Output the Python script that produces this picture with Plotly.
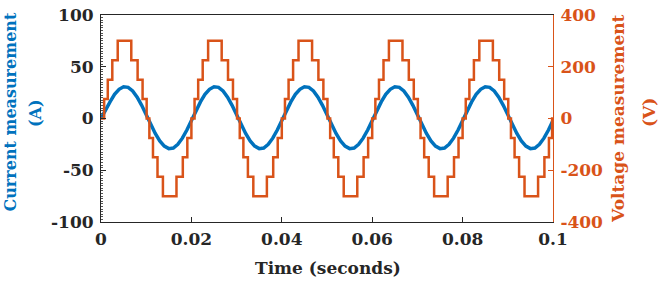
import plotly.graph_objects as go

# ---- data ----
time_current = [round(0.001 * k, 3) for k in range(101)]
current = [
    0.0, 7.2, 16.0, 23.3, 28.2, 30.7, 30.1, 26.6, 20.6, 12.7,
    3.6, -5.7, -14.5, -21.7, -26.7, -29.1, -28.5, -25.0, -19.0, -11.1,
    -2.0, 7.2, 16.0, 23.3, 28.2, 30.7, 30.1, 26.6, 20.6, 12.7,
    3.6, -5.7, -14.5, -21.7, -26.7, -29.1, -28.5, -25.0, -19.0, -11.1,
    -2.0, 7.2, 16.0, 23.3, 28.2, 30.7, 30.1, 26.6, 20.6, 12.7,
    3.6, -5.7, -14.5, -21.7, -26.7, -29.1, -28.5, -25.0, -19.0, -11.1,
    -2.0, 7.2, 16.0, 23.3, 28.2, 30.7, 30.1, 26.6, 20.6, 12.7,
    3.6, -5.7, -14.5, -21.7, -26.7, -29.1, -28.5, -25.0, -19.0, -11.1,
    -2.0, 7.2, 16.0, 23.3, 28.2, 30.7, 30.1, 26.6, 20.6, 12.7,
    3.6, -5.7, -14.5, -21.7, -26.7, -29.1, -28.5, -25.0, -19.0, -11.1,
    -2.0,
]

# voltage staircase: times at which a new level starts, and the level
time_voltage = [
    0.0,
    0.0007, 0.0015, 0.0025, 0.0037, 0.0067, 0.0081, 0.0092, 0.0101,
    0.0107, 0.0115, 0.0125, 0.0137, 0.0167, 0.0181, 0.0191, 0.0200,
    0.0207, 0.0215, 0.0225, 0.0237, 0.0267, 0.0281, 0.0292, 0.0301,
    0.0307, 0.0315, 0.0325, 0.0337, 0.0367, 0.0381, 0.0391, 0.0400,
    0.0407, 0.0415, 0.0425, 0.0437, 0.0467, 0.0481, 0.0492, 0.0501,
    0.0507, 0.0515, 0.0525, 0.0537, 0.0567, 0.0581, 0.0591, 0.0600,
    0.0607, 0.0615, 0.0625, 0.0637, 0.0667, 0.0681, 0.0692, 0.0701,
    0.0707, 0.0715, 0.0725, 0.0737, 0.0767, 0.0781, 0.0791, 0.0800,
    0.0807, 0.0815, 0.0825, 0.0837, 0.0867, 0.0881, 0.0892, 0.0901,
    0.0907, 0.0915, 0.0925, 0.0937, 0.0967, 0.0981, 0.0991, 0.0998,
    0.1000,
]
voltage = [
    0,
    75, 150, 225, 300, 225, 150, 75, 0,
    -75, -150, -225, -300, -225, -150, -75, 0,
    75, 150, 225, 300, 225, 150, 75, 0,
    -75, -150, -225, -300, -225, -150, -75, 0,
    75, 150, 225, 300, 225, 150, 75, 0,
    -75, -150, -225, -300, -225, -150, -75, 0,
    75, 150, 225, 300, 225, 150, 75, 0,
    -75, -150, -225, -300, -225, -150, -75, 0,
    75, 150, 225, 300, 225, 150, 75, 0,
    -75, -150, -225, -300, -225, -150, -75, 0,
    0,
]

x_ticks = [0, 0.02, 0.04, 0.06, 0.08, 0.1]
x_tick_labels = ["0", "0.02", "0.04", "0.06", "0.08", "0.1"]
y1_ticks = [-100, -50, 0, 50, 100]
y1_tick_labels = ["-100", "-50", "0", "50", "100"]
y2_ticks = [-400, -200, 0, 200, 400]
y2_tick_labels = ["-400", "-200", "0", "200", "400"]

BLUE = "#0072BD"
ORANGE = "#D95319"
DARK = "#262626"
FONT = "DejaVu Serif"

W, H = 661, 283
# target plot box in screen pixels
PL, PR, PT, PB = 101, 553, 15, 222
ml, mr = PL, W - PR
mt, mb = PT, H - PB
pw, ph = PR - PL, PB - PT


def px(x):
    return (x - PL) / pw


def py(y):
    return (PB - y) / ph


fig = go.Figure()
fig.add_trace(go.Scatter(x=time_current, y=current, mode="lines",
                         line=dict(color=BLUE, width=3.5), yaxis="y",
                         showlegend=False))
fig.add_trace(go.Scatter(x=time_voltage, y=voltage, mode="lines",
                         line=dict(color=ORANGE, width=2.5, shape="hv"),
                         yaxis="y2", showlegend=False))

tickfont_dark = dict(family=FONT, size=17, color=DARK, weight="bold")
tickfont_orange = dict(family=FONT, size=17, color=ORANGE, weight="bold")

fig.update_layout(
    width=W, height=H, autosize=False,
    margin=dict(l=ml, r=mr, t=mt, b=mb, pad=0),
    paper_bgcolor="white", plot_bgcolor="white",
    xaxis=dict(range=[0, 0.1], tickvals=x_ticks, ticktext=x_tick_labels,
               ticks="inside", ticklen=5, tickcolor=DARK,
               showline=True, linecolor=DARK, linewidth=1, mirror=True,
               showgrid=False, zeroline=False, tickfont=tickfont_dark,
               ticklabelstandoff=2, automargin=False, ticklabeloverflow="allow"),
    yaxis=dict(range=[-100, 100], tickvals=y1_ticks, ticktext=y1_tick_labels,
               ticks="inside", ticklen=5, tickcolor=DARK,
               showline=True, linecolor=DARK, linewidth=1,
               showgrid=False, zeroline=False, tickfont=tickfont_dark,
               minor=dict(ticks="inside", ticklen=2, dtick=2.5, tickcolor="#555555"),
               ticklabelstandoff=3, automargin=False, ticklabeloverflow="allow"),
    yaxis2=dict(range=[-400, 400], tickvals=y2_ticks, ticktext=y2_tick_labels,
                overlaying="y", side="right",
                ticks="inside", ticklen=5, tickcolor=ORANGE,
                showline=True, linecolor=ORANGE, linewidth=1,
                showgrid=False, zeroline=False, tickfont=tickfont_orange,
                ticklabelstandoff=3, automargin=False, ticklabeloverflow="allow"),
)

title_font_blue = dict(family=FONT, size=16, color=BLUE, weight="bold")
title_font_orange = dict(family=FONT, size=17, color=ORANGE, weight="bold")
title_font_dark = dict(family=FONT, size=17, color=DARK, weight="bold")

ann = [
    dict(text="Time (seconds)", x=px(328), y=py(268), font=title_font_dark, textangle=0),
    dict(text="Current measurement", x=px(9.5), y=py(112), font=title_font_blue, textangle=-90),
    dict(text="(A)", x=px(35), y=py(113), font=title_font_blue, textangle=-90),
    dict(text="Voltage measurement", x=px(618), y=py(119), font=title_font_orange, textangle=-90),
    dict(text="(V)", x=px(649), y=py(113), font=title_font_orange, textangle=-90),
]
for a in ann:
    fig.add_annotation(xref="paper", yref="paper", showarrow=False,
                       xanchor="center", yanchor="middle", **a)

fig.write_html("out.html", config={"displayModeBar": False},
               post_script="document.body.style.margin='0';")
